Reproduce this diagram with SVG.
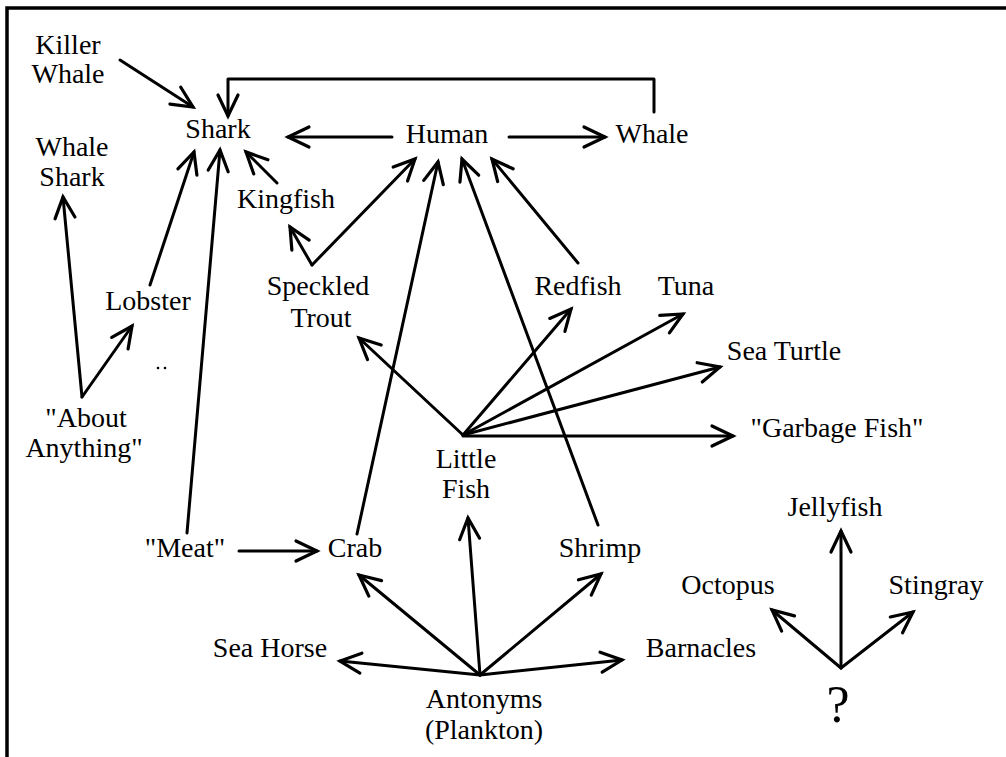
<svg xmlns="http://www.w3.org/2000/svg" width="1006" height="757" viewBox="0 0 1006 757">
<style>
text{font-family:"Liberation Serif","Times New Roman",serif;font-size:28px;fill:#000;text-anchor:middle}
.c line,.c path{stroke:#000;stroke-width:3;fill:none;stroke-linecap:round;stroke-linejoin:round}
.a{marker-end:url(#ah)}
.frame{stroke:#000;stroke-width:3.5;fill:none}
</style>
<defs>
<marker id="ah" markerUnits="userSpaceOnUse" viewBox="-24 -14 28 28" markerWidth="28" markerHeight="28" refX="0" refY="0" orient="auto">
<path d="M-21,-10 L0,0 L-21,10" fill="none" stroke="#000" stroke-width="3.2" stroke-linecap="round" stroke-linejoin="miter"/>
</marker>
</defs>
<rect width="1006" height="757" fill="#fff"/>
<path class="frame" d="M7,757 L7,8 L1006,8"/>
<g class="c" id="connectors">
<line class="a" x1="120" y1="60" x2="193" y2="107"/>
<path class="a" d="M654,112 L654,79 L228,79 L228,116"/>
<line class="a" x1="392" y1="137" x2="288" y2="137"/>
<line class="a" x1="509" y1="137" x2="605" y2="137"/>
<line class="a" x1="277" y1="183" x2="246" y2="152"/>
<line class="a" x1="150" y1="285" x2="194" y2="152"/>
<line class="a" x1="187" y1="533" x2="220" y2="150"/>
<line class="a" x1="312" y1="265" x2="290" y2="227"/>
<line class="a" x1="312" y1="265" x2="415" y2="159"/>
<line class="a" x1="357" y1="534" x2="438" y2="162"/>
<line class="a" x1="598" y1="525" x2="462" y2="159"/>
<line class="a" x1="578" y1="263" x2="492" y2="159"/>
<line class="a" x1="463" y1="435" x2="359" y2="338"/>
<line class="a" x1="463" y1="435" x2="571" y2="309"/>
<line class="a" x1="463" y1="435" x2="683" y2="314"/>
<line class="a" x1="463" y1="435" x2="720" y2="367"/>
<line class="a" x1="463" y1="436" x2="733" y2="436"/>
<line class="a" x1="239" y1="551" x2="317" y2="551"/>
<line class="a" x1="480" y1="675" x2="359" y2="575"/>
<line class="a" x1="480" y1="675" x2="468" y2="518"/>
<line class="a" x1="480" y1="675" x2="601" y2="574"/>
<line class="a" x1="480" y1="675" x2="340" y2="661"/>
<line class="a" x1="480" y1="675" x2="622" y2="660"/>
<line class="a" x1="82" y1="397" x2="63" y2="197"/>
<line class="a" x1="82" y1="397" x2="132" y2="326"/>
<line class="a" x1="841" y1="668" x2="841" y2="531"/>
<line class="a" x1="841" y1="668" x2="772" y2="610"/>
<line class="a" x1="841" y1="668" x2="913" y2="612"/>
</g>
<circle cx="158" cy="368" r="1.3" fill="#000"/>
<circle cx="165" cy="368" r="1.3" fill="#000"/>
<g id="killer-whale"><text x="68" y="54">Killer</text><text x="68" y="83">Whale</text></g>
<g id="shark"><text x="218" y="138">Shark</text></g>
<g id="whale-shark"><text x="72" y="156">Whale</text><text x="72" y="186">Shark</text></g>
<g id="kingfish"><text x="286" y="208">Kingfish</text></g>
<g id="human"><text x="447" y="143">Human</text></g>
<g id="whale"><text x="652" y="143">Whale</text></g>
<g id="lobster"><text x="148" y="310">Lobster</text></g>
<g id="speckled-trout"><text x="318" y="295">Speckled</text><text x="321" y="327">Trout</text></g>
<g id="about-anything"><text x="86" y="427">"About</text><text x="84" y="457">Anything"</text></g>
<g id="redfish"><text x="578" y="295">Redfish</text></g>
<g id="tuna"><text x="686" y="295">Tuna</text></g>
<g id="sea-turtle"><text x="784" y="360">Sea Turtle</text></g>
<g id="garbage-fish"><text x="837" y="437">"Garbage Fish"</text></g>
<g id="little-fish"><text x="466" y="468">Little</text><text x="466" y="498">Fish</text></g>
<g id="meat"><text x="185" y="557">"Meat"</text></g>
<g id="crab"><text x="355" y="557">Crab</text></g>
<g id="shrimp"><text x="600" y="557">Shrimp</text></g>
<g id="sea-horse"><text x="270" y="657">Sea Horse</text></g>
<g id="barnacles"><text x="701" y="657">Barnacles</text></g>
<g id="antonyms"><text x="484" y="708">Antonyms</text><text x="484" y="739">(Plankton)</text></g>
<g id="jellyfish"><text x="835" y="516">Jellyfish</text></g>
<g id="octopus"><text x="728" y="594">Octopus</text></g>
<g id="stingray"><text x="936" y="594">Stingray</text></g>
<g id="question"><text x="838" y="722" style="font-size:52px">?</text></g>
</svg>
